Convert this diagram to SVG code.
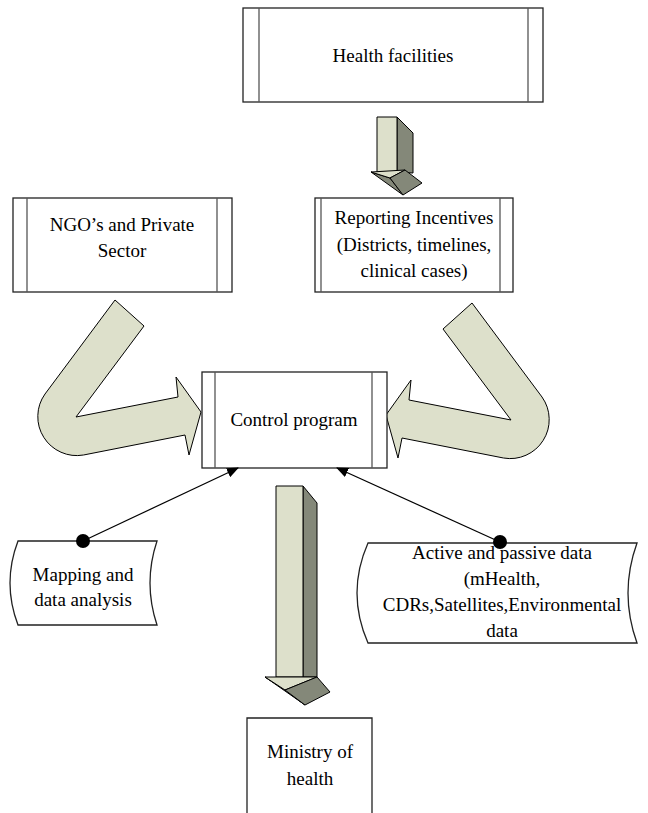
<svg xmlns="http://www.w3.org/2000/svg" width="648" height="813" viewBox="0 0 648 813">
<style>
  .box{fill:#fff;stroke:#222;stroke-width:1.3}
  .bar{stroke:#555;stroke-width:1.3}
  .t{font-family:"Liberation Serif","Times New Roman",serif;font-size:19px;fill:#000;text-anchor:middle}
  .lite{fill:#dde0cb;stroke:#000;stroke-width:1}
  .dark{fill:#848879;stroke:#000;stroke-width:1}
  .conn{stroke:#000;stroke-width:1.2;fill:none}
</style>
<defs>
  <marker id="ah" markerWidth="12" markerHeight="10" refX="11" refY="5" orient="auto" markerUnits="userSpaceOnUse">
    <path d="M0,0 L12,5 L0,10 Z" fill="#000"/>
  </marker>
  <path id="bend" d="M115,300 L144,326 L76,417 L178,397 L176,377 L201,412 L189,455 L185,435 L83.5,455 A39,39 0 0 1 45,394 Z"/>
</defs>
<rect width="648" height="813" fill="#fff"/>

<g id="health-facilities">
  <rect class="box" x="243" y="8" width="300" height="94"/>
  <line class="bar" x1="259" y1="8" x2="259" y2="102"/>
  <line class="bar" x1="528" y1="8" x2="528" y2="102"/>
  <text class="t" x="393" y="62">Health facilities</text>
</g>

<g id="arrow-small">
  <polygon class="dark" points="397,117 413,133 413,173 397,172"/>
  <polygon class="lite" points="377,117 397,117 397,172 377,172"/>
  <polygon class="dark" points="371,172 390,178 403,195"/>
  <polygon class="lite" points="371,172 405,170 390,178"/>
  <polygon class="dark" points="390,178 405,170 422,183 403,195"/>
</g>

<g id="ngo">
  <rect class="box" x="13" y="198" width="219" height="94"/>
  <line class="bar" x1="27" y1="198" x2="27" y2="292"/>
  <line class="bar" x1="217" y1="198" x2="217" y2="292"/>
  <text class="t" x="122" y="231">NGO’s and Private</text>
  <text class="t" x="122" y="257">Sector</text>
</g>

<g id="reporting">
  <rect class="box" x="315" y="198" width="198" height="94"/>
  <line class="bar" x1="321" y1="198" x2="321" y2="292"/>
  <line class="bar" x1="500" y1="198" x2="500" y2="292"/>
  <text class="t" x="414" y="224">Reporting Incentives</text>
  <text class="t" x="414" y="251">(Districts, timelines,</text>
  <text class="t" x="414" y="277">clinical cases)</text>
</g>

<g id="bend-left">
  <use href="#bend" class="lite"/>
</g>
<g id="bend-right">
  <use href="#bend" class="lite" transform="translate(587,3) scale(-1,1)"/>
</g>

<g id="control-program">
  <rect class="box" x="202" y="372" width="185" height="96"/>
  <line class="bar" x1="215" y1="372" x2="215" y2="468"/>
  <line class="bar" x1="372" y1="372" x2="372" y2="468"/>
  <text class="t" x="294" y="426">Control program</text>
</g>

<g id="arrow-big">
  <polygon class="dark" points="303,486 317,503 317,677 303,677"/>
  <polygon class="lite" points="276,486 303,486 303,677 276,677"/>
  <polygon class="dark" points="265,677 285,690 305,705"/>
  <polygon class="lite" points="265,677 317,677 285,690"/>
  <polygon class="dark" points="285,690 317,677 330,692 305,705"/>
</g>

<g id="mapping">
  <path class="box" d="M18,541 L157,541 Q143,583 157,625 L18,625 Q2,583 18,541 Z"/>
  <text class="t" x="83" y="581">Mapping and</text>
  <text class="t" x="83" y="606">data analysis</text>
</g>

<g id="active-data">
  <path class="box" d="M368,543 L637,543 Q619,593 637,643 L368,643 Q346,593 368,543 Z"/>
  <text class="t" x="502" y="559">Active and passive data</text>
  <text class="t" x="502" y="585">(mHealth,</text>
  <text class="t" x="502" y="611">CDRs,Satellites,Environmental</text>
  <text class="t" x="502" y="637">data</text>
</g>

<g id="ministry">
  <path class="box" d="M247,813 L247,718 L372,718 L372,813"/>
  <text class="t" x="310" y="758">Ministry of</text>
  <text class="t" x="310" y="785">health</text>
</g>

<g id="connectors">
  <line class="conn" x1="83" y1="541" x2="238" y2="468" marker-end="url(#ah)"/>
  <line class="conn" x1="500" y1="542" x2="337" y2="468" marker-end="url(#ah)"/>
  <circle cx="83" cy="541" r="7" fill="#000"/>
  <circle cx="500" cy="542" r="7" fill="#000"/>
</g>
</svg>
